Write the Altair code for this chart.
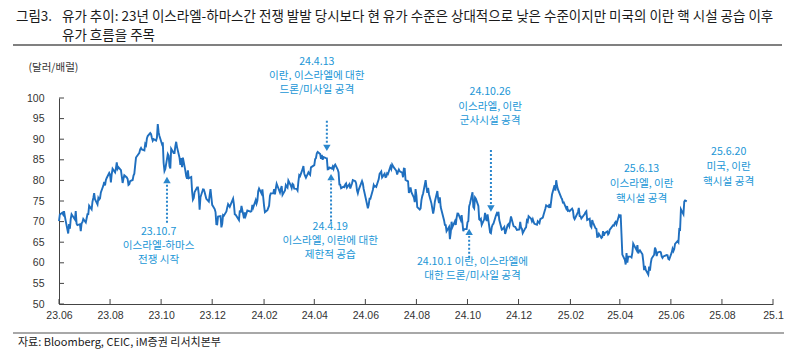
import altair as alt
import pandas as pd

# ---------------- text ----------------
FIG_NO = "그림3."
TITLE_1 = "유가 추이: 23년 이스라엘-하마스간 전쟁 발발 당시보다 현 유가 수준은 상대적으로 낮은 수준이지만 미국의 이란 핵 시설 공습 이후"
TITLE_2 = "유가 흐름을 주목"
SOURCE = "자료: Bloomberg, CEIC, iM증권 리서치본부"
Y_UNIT = "(달러/배럴)"

# ---------------- WTI daily (USD/bbl) ----------------
dates_2023 = [
    "06-01", "06-02", "06-05", "06-06", "06-07", "06-08", "06-09", "06-12", "06-13", "06-14", "06-15", "06-16",
    "06-20", "06-21", "06-22", "06-23", "06-26", "06-27", "06-28", "06-29", "06-30",
    "07-03", "07-05", "07-06", "07-07", "07-10", "07-11", "07-12", "07-13", "07-14", "07-17", "07-18", "07-19",
    "07-20", "07-21", "07-24", "07-25", "07-26", "07-27", "07-28", "07-31",
    "08-01", "08-02", "08-03", "08-04", "08-07", "08-08", "08-09", "08-10", "08-11", "08-14", "08-15", "08-16",
    "08-17", "08-18", "08-21", "08-22", "08-23", "08-24", "08-25", "08-28", "08-29", "08-30", "08-31",
    "09-01", "09-05", "09-06", "09-07", "09-08", "09-11", "09-12", "09-13", "09-14", "09-15", "09-18", "09-19",
    "09-20", "09-21", "09-22", "09-25", "09-26", "09-27", "09-28", "09-29",
    "10-02", "10-03", "10-04", "10-05", "10-06", "10-09", "10-10", "10-11", "10-12", "10-13", "10-16", "10-17",
    "10-18", "10-19", "10-20", "10-23", "10-24", "10-25", "10-26", "10-27", "10-30", "10-31",
    "11-01", "11-02", "11-03", "11-06", "11-07", "11-08", "11-09", "11-10", "11-13", "11-14", "11-15", "11-16",
    "11-17", "11-20", "11-21", "11-22", "11-24", "11-27", "11-28", "11-29", "11-30",
    "12-01", "12-04", "12-05", "12-06", "12-07", "12-08", "12-11", "12-12", "12-13", "12-14", "12-15", "12-18",
    "12-19", "12-20", "12-21", "12-22", "12-26", "12-27", "12-28", "12-29",
]
wti_2023 = [
    70.10, 71.74, 72.15, 71.74, 72.53, 71.29, 70.17, 67.12, 69.42, 68.27, 70.62, 71.78,
    70.50, 72.53, 69.51, 69.16, 69.37, 67.70, 69.56, 69.86, 70.64,
    69.79, 71.79, 71.80, 73.86, 72.99, 74.83, 75.75, 76.89, 75.42, 74.15, 75.75, 75.35,
    75.63, 77.07, 78.74, 79.63, 78.78, 80.09, 80.58, 81.80,
    81.37, 79.49, 81.55, 82.82, 81.94, 82.92, 84.40, 82.82, 83.19, 82.51, 80.99, 79.38,
    80.39, 81.25, 80.72, 80.35, 78.89, 79.05, 79.83, 80.10, 81.16, 81.63, 83.63,
    85.55, 86.69, 87.54, 87.87, 87.51, 87.29, 88.84, 88.52, 90.16, 90.77, 91.48, 91.20,
    90.28, 89.63, 90.03, 89.68, 90.39, 93.68, 91.71, 90.79,
    88.82, 89.23, 84.22, 82.31, 82.79, 86.38, 85.97, 83.49, 82.91, 87.69, 86.66, 86.66,
    88.32, 89.37, 88.08, 85.49, 83.74, 85.39, 83.21, 85.54, 82.31, 81.02,
    80.44, 82.46, 80.51, 80.82, 77.37, 75.33, 75.74, 77.17, 78.26, 78.26, 76.66, 72.90,
    75.89, 77.83, 77.77, 77.10, 75.54, 74.86, 76.41, 77.86, 75.96,
    74.07, 73.04, 72.32, 69.38, 69.34, 71.23, 71.32, 68.61, 69.47, 71.58, 71.43, 72.47,
    73.44, 74.22, 73.89, 73.56, 75.57, 74.11, 71.77, 71.65,
]

dates_2024 = [
    "01-02", "01-03", "01-04", "01-05", "01-08", "01-09", "01-10", "01-11", "01-12", "01-16", "01-17", "01-18",
    "01-19", "01-22", "01-23", "01-24", "01-25", "01-26", "01-29", "01-30", "01-31",
    "02-01", "02-02", "02-05", "02-06", "02-07", "02-08", "02-09", "02-12", "02-13", "02-14", "02-15", "02-16",
    "02-20", "02-21", "02-22", "02-23", "02-26", "02-27", "02-28", "02-29",
    "03-01", "03-04", "03-05", "03-06", "03-07", "03-08", "03-11", "03-12", "03-13", "03-14", "03-15", "03-18",
    "03-19", "03-20", "03-21", "03-22", "03-25", "03-26", "03-27", "03-28",
    "04-01", "04-02", "04-03", "04-04", "04-05", "04-08", "04-09", "04-10", "04-11", "04-12", "04-15", "04-16",
    "04-17", "04-18", "04-19", "04-22", "04-23", "04-24", "04-25", "04-26", "04-29", "04-30",
    "05-01", "05-02", "05-03", "05-06", "05-07", "05-08", "05-09", "05-10", "05-13", "05-14", "05-15", "05-16",
    "05-17", "05-20", "05-21", "05-22", "05-23", "05-24", "05-28", "05-29", "05-30", "05-31",
    "06-03", "06-04", "06-05", "06-06", "06-07", "06-10", "06-11", "06-12", "06-13", "06-14", "06-17", "06-18",
    "06-20", "06-21", "06-24", "06-25", "06-26", "06-27", "06-28",
    "07-01", "07-02", "07-03", "07-05", "07-08", "07-09", "07-10", "07-11", "07-12", "07-15", "07-16", "07-17",
    "07-18", "07-19", "07-22", "07-23", "07-24", "07-25", "07-26", "07-29", "07-30", "07-31",
    "08-01", "08-02", "08-05", "08-06", "08-07", "08-08", "08-09", "08-12", "08-13", "08-14", "08-15", "08-16",
    "08-19", "08-20", "08-21", "08-22", "08-23", "08-26", "08-27", "08-28", "08-29", "08-30",
    "09-03", "09-04", "09-05", "09-06", "09-09", "09-10", "09-11", "09-12", "09-13", "09-16", "09-17", "09-18",
    "09-19", "09-20", "09-23", "09-24", "09-25", "09-26", "09-27", "09-30",
    "10-01", "10-02", "10-03", "10-04", "10-07", "10-08", "10-09", "10-10", "10-11", "10-14", "10-15", "10-16",
    "10-17", "10-18", "10-21", "10-22", "10-23", "10-24", "10-25", "10-28", "10-29", "10-30", "10-31",
    "11-01", "11-04", "11-05", "11-06", "11-07", "11-08", "11-11", "11-12", "11-13", "11-14", "11-15", "11-18",
    "11-19", "11-20", "11-21", "11-22", "11-25", "11-26", "11-27", "11-29",
    "12-02", "12-03", "12-04", "12-05", "12-06", "12-09", "12-10", "12-11", "12-12", "12-13", "12-16", "12-17",
    "12-18", "12-19", "12-20", "12-23", "12-24", "12-26", "12-27", "12-30", "12-31",
]
wti_2024 = [
    70.38, 72.70, 72.19, 73.81, 70.77, 72.24, 71.37, 72.02, 72.68, 72.40, 72.56, 74.08,
    73.41, 75.19, 74.37, 75.09, 77.36, 78.01, 76.78, 77.82, 75.85,
    73.82, 72.28, 72.78, 73.31, 73.86, 76.22, 76.84, 76.92, 77.87, 76.64, 78.03, 79.19,
    77.04, 77.91, 78.61, 76.49, 77.58, 78.87, 78.54, 78.26,
    79.97, 78.74, 78.15, 79.13, 78.93, 78.01, 77.93, 77.56, 79.72, 81.26, 81.04, 82.72,
    83.47, 81.68, 81.07, 80.63, 81.95, 81.62, 81.35, 83.17,
    83.71, 85.15, 85.43, 86.59, 86.91, 86.43, 85.23, 86.21, 85.02, 85.66, 85.41, 85.36,
    82.69, 82.73, 83.14, 82.85, 83.36, 82.81, 83.57, 83.85, 82.63, 81.93,
    79.00, 78.95, 78.11, 78.48, 78.38, 78.99, 79.26, 78.26, 79.12, 78.02, 78.63, 79.23,
    80.06, 79.80, 79.26, 77.57, 76.87, 77.72, 79.83, 79.23, 77.91, 76.99,
    74.22, 73.25, 74.07, 75.55, 75.53, 77.74, 78.90, 78.50, 78.62, 78.45, 80.33, 81.57,
    82.17, 80.73, 81.63, 80.83, 80.90, 81.74, 81.54,
    83.38, 82.81, 83.88, 83.16, 82.33, 81.41, 82.10, 82.62, 82.21, 81.91, 80.76, 82.85,
    82.82, 80.13, 79.78, 76.96, 77.59, 78.28, 77.16, 75.81, 74.73, 77.91,
    76.31, 73.52, 72.94, 73.20, 75.23, 76.19, 76.84, 80.06, 78.35, 76.98, 78.16, 76.65,
    74.37, 73.17, 71.93, 73.01, 74.83, 77.42, 75.53, 74.52, 75.91, 73.55,
    70.34, 69.20, 69.15, 67.67, 68.71, 65.75, 67.31, 69.97, 68.65, 70.09, 69.19, 70.91,
    71.95, 71.92, 70.37, 71.56, 69.69, 67.67, 68.18, 68.17,
    69.83, 70.10, 73.71, 74.38, 77.14, 73.57, 73.24, 75.85, 75.56, 73.83, 70.58, 70.39,
    70.67, 69.22, 70.56, 72.09, 70.77, 70.19, 71.78, 67.38, 67.21, 68.61, 69.26,
    69.49, 71.47, 71.99, 71.69, 72.36, 70.38, 68.04, 68.12, 68.43, 68.70, 67.02, 69.16,
    69.39, 68.87, 70.10, 71.24, 68.94, 68.77, 68.72, 68.00,
    68.10, 69.94, 68.54, 68.30, 67.20, 68.37, 68.59, 70.29, 70.02, 71.29, 70.71, 70.08,
    70.58, 69.91, 69.46, 69.24, 70.10, 69.62, 70.60, 70.99, 71.72,
]

dates_2025 = [
    "01-02", "01-03", "01-06", "01-07", "01-08", "01-10", "01-13", "01-14", "01-15", "01-16", "01-17", "01-21",
    "01-22", "01-23", "01-24", "01-27", "01-28", "01-29", "01-30", "01-31",
    "02-03", "02-04", "02-05", "02-06", "02-07", "02-10", "02-11", "02-12", "02-13", "02-14", "02-18", "02-19",
    "02-20", "02-21", "02-24", "02-25", "02-26", "02-27", "02-28",
    "03-03", "03-04", "03-05", "03-06", "03-07", "03-10", "03-11", "03-12", "03-13", "03-14", "03-17", "03-18",
    "03-19", "03-20", "03-21", "03-24", "03-25", "03-26", "03-27", "03-28", "03-31",
    "04-01", "04-02", "04-03", "04-04", "04-07", "04-08", "04-09", "04-10", "04-11", "04-14", "04-15", "04-16",
    "04-17", "04-21", "04-22", "04-23", "04-24", "04-25", "04-28", "04-29", "04-30",
    "05-01", "05-02", "05-05", "05-06", "05-07", "05-08", "05-09", "05-12", "05-13", "05-14", "05-15", "05-16",
    "05-19", "05-20", "05-21", "05-22", "05-23", "05-27", "05-28", "05-29", "05-30",
    "06-02", "06-03", "06-04", "06-05", "06-06", "06-09", "06-10", "06-11", "06-12", "06-13", "06-16", "06-17",
    "06-18", "06-20",
]
wti_2025 = [
    73.13, 73.96, 73.56, 74.25, 73.32, 76.57, 78.82, 77.50, 80.04, 78.68, 77.88, 75.83,
    75.44, 74.62, 74.66, 73.17, 73.77, 72.62, 72.73, 72.53,
    73.16, 72.70, 71.03, 70.61, 71.00, 72.32, 73.32, 71.37, 71.29, 70.74, 71.85, 72.25,
    72.48, 70.40, 70.70, 68.93, 68.62, 70.35, 69.76,
    68.37, 68.26, 66.31, 66.36, 67.04, 66.03, 66.25, 67.68, 66.55, 67.18, 67.58, 66.90,
    67.16, 68.07, 68.28, 69.11, 69.00, 69.65, 69.92, 69.36, 71.48,
    71.20, 71.71, 66.95, 61.99, 60.70, 59.58, 62.35, 60.07, 61.50, 61.53, 61.33, 62.47,
    64.68, 63.08, 64.31, 62.27, 62.79, 63.02, 62.05, 60.42, 58.21,
    59.24, 58.29, 57.13, 59.09, 58.07, 59.91, 61.02, 61.95, 63.67, 63.15, 61.62, 62.49,
    62.69, 62.56, 61.57, 61.20, 61.53, 61.89, 61.84, 60.94, 60.79,
    62.52, 63.41, 62.85, 63.37, 64.58, 65.29, 64.98, 68.15, 68.04, 72.98, 71.77, 74.84,
    75.14, 74.93,
]

# ---------------- annotations ----------------
note_dates = [
    "2023-09-28", "2023-09-28", "2023-09-28",
    "2024-04-04", "2024-04-04", "2024-04-04",
    "2024-04-20", "2024-04-20", "2024-04-20",
    "2024-10-28", "2024-10-28", "2024-10-28",
    "2024-10-07", "2024-10-07",
    "2025-04-27", "2025-04-27", "2025-04-27",
    "2025-08-09", "2025-08-09", "2025-08-09",
]
note_values = [
    67.5, 64.1, 60.7,
    108.7, 105.3, 101.9,
    68.6, 65.2, 61.8,
    101.4, 97.9, 94.3,
    60.2, 56.8,
    82.8, 79.1, 75.5,
    86.8, 83.2, 79.5,
]
note_texts = [
    "23.10.7", "이스라엘-하마스", "전쟁 시작",
    "24.4.13", "이란, 이스라엘에 대한", "드론/미사일 공격",
    "24.4.19", "이스라엘, 이란에 대한", "제한적 공습",
    "24.10.26", "이스라엘, 이란", "군사시설 공격",
    "24.10.1 이란, 이스라엘에", "대한 드론/미사일 공격",
    "25.6.13", "이스라엘, 이란", "핵시설 공격",
    "25.6.20", "미국, 이란", "핵시설 공격",
]

arrow_dates = ["2023-10-08", "2024-04-16", "2024-04-21", "2024-10-03", "2024-10-29"]
arrow_from = [69.7, 94.5, 70.0, 61.2, 87.4]
arrow_to = [79.3, 88.8, 79.9, 66.5, 74.3]
arrow_head = [80.1, 87.9, 80.8, 67.5, 73.2]
arrow_shape = ["triangle-up", "triangle-down", "triangle-up", "triangle-up", "triangle-down"]

y_tick_values = [50, 55, 60, 65, 70, 75, 80, 85, 90, 95, 100]
x_tick_months = [(2023, 6), (2023, 8), (2023, 10), (2023, 12),
                 (2024, 2), (2024, 4), (2024, 6), (2024, 8), (2024, 10), (2024, 12),
                 (2025, 2), (2025, 4), (2025, 6), (2025, 8), (2025, 10)]

# ---------------- build tables ----------------
all_dates = ([f"2023-{d}" for d in dates_2023] + [f"2024-{d}" for d in dates_2024]
             + [f"2025-{d}" for d in dates_2025])
all_vals = wti_2023 + wti_2024 + wti_2025
df = pd.DataFrame({"date": pd.to_datetime(all_dates), "wti": all_vals})

notes = pd.DataFrame({"date": pd.to_datetime(note_dates), "v": note_values, "t": note_texts})
arrows = pd.DataFrame({"date": pd.to_datetime(arrow_dates), "a": arrow_from, "b": arrow_to,
                       "h": arrow_head, "shape": arrow_shape})
yticks = pd.DataFrame({"v": y_tick_values})
xticks = pd.DataFrame({"date": pd.to_datetime([f"{y}-{m:02d}-01" for y, m in x_tick_months])})

W, H = 714, 206
LINE_BLUE = "#1f6fbf"
NOTE_BLUE = "#2196d6"
ARROW_BLUE = "#2a86cc"
KFONT = "Noto Sans CJK KR"
AFONT = "Liberation Sans"

xscale = alt.Scale(domain=[alt.DateTime(year=2023, month=6, date=1),
                           alt.DateTime(year=2025, month=10, date=1)], nice=False)
yscale = alt.Scale(domain=[50, 100], nice=False, zero=False)

x_values = [alt.DateTime(year=y, month=m, date=1) for y, m in x_tick_months]
label_expr = ("timeFormat(datum.value, '%y.%m') === '25.10' ? '25.1' : "
              "timeFormat(datum.value, '%y.%m')")

x_axis = alt.Axis(values=x_values, labelExpr=label_expr, ticks=False, grid=False, title=None,
                  domainColor="#444", labelFont=AFONT, labelFontSize=10.5, labelColor="#333",
                  labelPadding=6, labelFlush=False, labelOverlap=False)
y_axis = alt.Axis(values=y_tick_values, ticks=False, grid=False, title=Y_UNIT, titleAngle=0,
                  titleX=-31, titleY=-31, titleAlign="left", titleBaseline="middle",
                  titleFont=KFONT, titleFontSize=10.5, titleFontWeight="normal",
                  titleColor="#333", domainColor="#444", labelFont=AFONT,
                  labelFontSize=10.5, labelColor="#333", labelPadding=15,
                  labelFlush=False, labelOverlap=False)

line = alt.Chart(df).mark_line(color=LINE_BLUE, strokeWidth=1.9).encode(
    x=alt.X("date:T", scale=xscale, axis=x_axis),
    y=alt.Y("wti:Q", scale=yscale, axis=y_axis),
)

ytick_marks = alt.Chart(yticks).mark_rule(color="#444", strokeWidth=1).encode(
    y=alt.Y("v:Q", scale=yscale, axis=y_axis), x=alt.value(0), x2=alt.value(5))
xtick_marks = alt.Chart(xticks).mark_rule(color="#444", strokeWidth=1).encode(
    x=alt.X("date:T", scale=xscale, axis=x_axis), y=alt.value(H), y2=alt.value(H - 5))

arrow_lines = alt.Chart(arrows).mark_rule(color=ARROW_BLUE, strokeWidth=2, strokeDash=[2, 2]).encode(
    x=alt.X("date:T", scale=xscale, axis=x_axis),
    y=alt.Y("a:Q", scale=yscale, axis=y_axis), y2="b:Q")
arrow_heads = alt.Chart(arrows).mark_point(filled=True, color=ARROW_BLUE, opacity=1, size=55).encode(
    x=alt.X("date:T", scale=xscale, axis=x_axis),
    y=alt.Y("h:Q", scale=yscale, axis=y_axis),
    shape=alt.Shape("shape:N", scale=None, legend=None))

note_text = alt.Chart(notes).mark_text(font=KFONT, fontSize=10.6, color=NOTE_BLUE, align="center",
                                       baseline="middle").encode(
    x=alt.X("date:T", scale=xscale, axis=x_axis),
    y=alt.Y("v:Q", scale=yscale, axis=y_axis),
    text="t:N")

one = pd.DataFrame({"k": [0]})
TFS = 13.5
fig_no = alt.Chart(one).mark_text(font=KFONT, fontSize=TFS, color="#1a1a1a", align="left",
                                  baseline="middle").encode(
    x=alt.value(-43), y=alt.value(-81), text=alt.value(FIG_NO))
title1 = alt.Chart(one).mark_text(font=KFONT, fontSize=TFS, color="#1a1a1a", align="left",
                                  baseline="middle").encode(
    x=alt.value(3), y=alt.value(-81), text=alt.value(TITLE_1))
title2 = alt.Chart(one).mark_text(font=KFONT, fontSize=TFS, color="#1a1a1a", align="left",
                                  baseline="middle").encode(
    x=alt.value(3), y=alt.value(-62), text=alt.value(TITLE_2))
top_rule = alt.Chart(one).mark_rule(color="#808080", strokeWidth=2).encode(
    x=alt.value(-46), x2=alt.value(723), y=alt.value(-53))
bottom_rule = alt.Chart(one).mark_rule(color="#a8a8a8", strokeWidth=2).encode(
    x=alt.value(-46), x2=alt.value(725), y=alt.value(235))
source = alt.Chart(one).mark_text(font=KFONT, fontSize=11, color="#1a1a1a", align="left",
                                  baseline="middle").encode(
    x=alt.value(-41), y=alt.value(245), text=alt.value(SOURCE))

chart = alt.layer(
    line, ytick_marks, xtick_marks, arrow_lines, arrow_heads, note_text,
    fig_no, title1, title2, top_rule, bottom_rule, source,
).properties(
    width=W, height=H,
    autosize=alt.AutoSizeParams(type="none"),
    padding={"left": 59, "top": 98, "right": 22, "bottom": 48},
    background="white",
).configure_view(stroke=None)

chart.save("out.html", embed_options={"renderer": "svg", "actions": False})
